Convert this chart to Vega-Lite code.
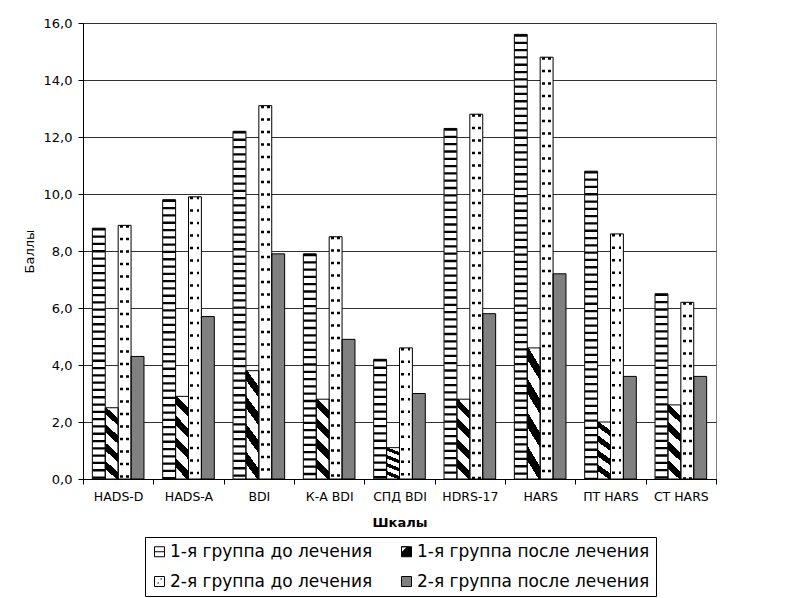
{
  "$schema": "https://vega.github.io/schema/vega-lite/v6.json",
  "width": 633,
  "height": 456,
  "autosize": {"type": "pad"},
  "padding": {"left": 23, "top": 17, "right": 5, "bottom": 2},
  "background": "white",
  "config": {
    "font": "DejaVu Sans",
    "view": {"stroke": "#808080", "strokeWidth": 1},
    "axis": {"labelColor": "black", "titleColor": "black", "domainColor": "black", "tickColor": "black", "labelFont": "DejaVu Sans", "titleFont": "DejaVu Sans"},
    "legend": {
      "orient": "none",
      "legendX": 62,
      "legendY": 514,
      "direction": "horizontal",
      "columns": 2,
      "labelFont": "DejaVu Sans",
      "labelFontSize": 17,
      "labelColor": "black",
      "labelOffset": 2,
      "symbolSize": 100,
      "symbolOpacity": 1,
      "symbolStrokeWidth": 1,
      "strokeColor": "black",
      "padding": 6,
      "columnPadding": 25,
      "rowPadding": 12,
      "labelLimit": 400
    }
  },
  "data": {
    "values": [
      {"scale": "HADS-D", "g": "1-я группа до лечения", "value": 8.8},
      {"scale": "HADS-D", "g": "1-я группа после лечения", "value": 2.5},
      {"scale": "HADS-D", "g": "2-я группа до лечения", "value": 8.9},
      {"scale": "HADS-D", "g": "2-я группа после лечения", "value": 4.3},
      {"scale": "HADS-A", "g": "1-я группа до лечения", "value": 9.8},
      {"scale": "HADS-A", "g": "1-я группа после лечения", "value": 2.9},
      {"scale": "HADS-A", "g": "2-я группа до лечения", "value": 9.9},
      {"scale": "HADS-A", "g": "2-я группа после лечения", "value": 5.7},
      {"scale": "BDI", "g": "1-я группа до лечения", "value": 12.2},
      {"scale": "BDI", "g": "1-я группа после лечения", "value": 3.8},
      {"scale": "BDI", "g": "2-я группа до лечения", "value": 13.1},
      {"scale": "BDI", "g": "2-я группа после лечения", "value": 7.9},
      {"scale": "К-А BDI", "g": "1-я группа до лечения", "value": 7.9},
      {"scale": "К-А BDI", "g": "1-я группа после лечения", "value": 2.8},
      {"scale": "К-А BDI", "g": "2-я группа до лечения", "value": 8.5},
      {"scale": "К-А BDI", "g": "2-я группа после лечения", "value": 4.9},
      {"scale": "СПД BDI", "g": "1-я группа до лечения", "value": 4.2},
      {"scale": "СПД BDI", "g": "1-я группа после лечения", "value": 1.1},
      {"scale": "СПД BDI", "g": "2-я группа до лечения", "value": 4.6},
      {"scale": "СПД BDI", "g": "2-я группа после лечения", "value": 3.0},
      {"scale": "HDRS-17", "g": "1-я группа до лечения", "value": 12.3},
      {"scale": "HDRS-17", "g": "1-я группа после лечения", "value": 2.8},
      {"scale": "HDRS-17", "g": "2-я группа до лечения", "value": 12.8},
      {"scale": "HDRS-17", "g": "2-я группа после лечения", "value": 5.8},
      {"scale": "HARS", "g": "1-я группа до лечения", "value": 15.6},
      {"scale": "HARS", "g": "1-я группа после лечения", "value": 4.6},
      {"scale": "HARS", "g": "2-я группа до лечения", "value": 14.8},
      {"scale": "HARS", "g": "2-я группа после лечения", "value": 7.2},
      {"scale": "ПТ HARS", "g": "1-я группа до лечения", "value": 10.8},
      {"scale": "ПТ HARS", "g": "1-я группа после лечения", "value": 2.0},
      {"scale": "ПТ HARS", "g": "2-я группа до лечения", "value": 8.6},
      {"scale": "ПТ HARS", "g": "2-я группа после лечения", "value": 3.6},
      {"scale": "СТ HARS", "g": "1-я группа до лечения", "value": 6.5},
      {"scale": "СТ HARS", "g": "1-я группа после лечения", "value": 2.6},
      {"scale": "СТ HARS", "g": "2-я группа до лечения", "value": 6.2},
      {"scale": "СТ HARS", "g": "2-я группа после лечения", "value": 3.6}
    ]
  },
  "encoding": {
    "x": {
      "field": "scale",
      "type": "nominal",
      "sort": ["HADS-D", "HADS-A", "BDI", "К-А BDI", "СПД BDI", "HDRS-17", "HARS", "ПТ HARS", "СТ HARS"],
      "scale": {"paddingInner": 0, "paddingOuter": 0},
      "axis": {
        "title": "Шкалы",
        "titleFontWeight": "bold",
        "titleFontSize": 13,
        "titlePadding": 14,
        "labelAngle": 0,
        "labelFontSize": 12.5,
        "labelPadding": 6,
        "tickBand": "extent",
        "tickSize": 5,
        "grid": false
      }
    },
    "xOffset": {
      "field": "g",
      "type": "nominal",
      "scale": {
        "domain": ["1-я группа до лечения", "1-я группа после лечения", "2-я группа до лечения", "2-я группа после лечения"],
        "paddingInner": 0,
        "paddingOuter": 0.725
      }
    },
    "y": {
      "field": "value",
      "type": "quantitative",
      "scale": {"domain": [0, 16], "nice": false},
      "axis": {
        "title": "Баллы",
        "titleFontWeight": "normal",
        "titleFontSize": 13,
        "titlePadding": 7,
        "values": [0, 2, 4, 6, 8, 10, 12, 14, 16],
        "labelExpr": "replace(format(datum.value, '.1f'), '.', ',')",
        "labelFontSize": 13,
        "labelPadding": 6,
        "tickSize": 5,
        "grid": true,
        "gridColor": "#303030",
        "gridWidth": 1
      }
    }
  },
  "layer": [
    {
      "mark": {"type": "bar", "strokeWidth": 0, "fill": "white"}
    },
    {
      "transform": [{"filter": "datum.g === '2-я группа после лечения'"}],
      "mark": {"type": "bar", "strokeWidth": 0, "fill": "#808080"}
    },
    {
      "transform": [{"filter": "datum.g === '1-я группа до лечения'"}],
      "mark": {"type": "rule", "stroke": "black", "strokeWidth": 12.5, "strokeDash": [2.3, 5], "strokeCap": "butt"},
      "encoding": {
        "y2": {"datum": 0}
      }
    },
    {
      "transform": [{"filter": "datum.g === '1-я группа после лечения'"}],
      "mark": {
        "type": "bar",
        "strokeWidth": 0,
        "fill": {
          "gradient": "linear",
          "x1": 0, "y1": 1, "x2": 0.1625, "y2": 0,
          "stops": [
            {"offset": 0, "color": "white"},
            {"offset": 0.1375, "color": "white"},
            {"offset": 0.1375, "color": "black"},
            {"offset": 0.25, "color": "black"},
            {"offset": 0.25, "color": "white"},
            {"offset": 0.3875, "color": "white"},
            {"offset": 0.3875, "color": "black"},
            {"offset": 0.5, "color": "black"},
            {"offset": 0.5, "color": "white"},
            {"offset": 0.6375, "color": "white"},
            {"offset": 0.6375, "color": "black"},
            {"offset": 0.75, "color": "black"},
            {"offset": 0.75, "color": "white"},
            {"offset": 0.8875, "color": "white"},
            {"offset": 0.8875, "color": "black"},
            {"offset": 0.99, "color": "black"},
            {"offset": 0.99, "color": "white"},
            {"offset": 1, "color": "white"}
          ]
        }
      }
    },
    {
      "transform": [{"filter": "datum.g === '2-я группа до лечения'"}],
      "mark": {"type": "rule", "stroke": "black", "strokeWidth": 12, "strokeDash": [2.5, 10], "strokeCap": "butt"},
      "encoding": {
        "y2": {"datum": 0}
      }
    },
    {
      "transform": [{"filter": "datum.g === '2-я группа до лечения'"}],
      "mark": {
        "type": "bar",
        "strokeWidth": 0,
        "fill": {
          "gradient": "linear",
          "x1": 0, "y1": 0, "x2": 1, "y2": 0,
          "stops": [
            {"offset": 0, "color": "white"},
            {"offset": 0.15, "color": "white"},
            {"offset": 0.15, "color": "rgba(255,255,255,0)"},
            {"offset": 0.38, "color": "rgba(255,255,255,0)"},
            {"offset": 0.38, "color": "white"},
            {"offset": 0.62, "color": "white"},
            {"offset": 0.62, "color": "rgba(255,255,255,0)"},
            {"offset": 0.85, "color": "rgba(255,255,255,0)"},
            {"offset": 0.85, "color": "white"},
            {"offset": 1, "color": "white"}
          ]
        }
      }
    },
    {
      "mark": {"type": "bar", "fill": "transparent", "stroke": "black", "strokeWidth": 1}
    },
    {
      "mark": {"type": "point", "filled": true, "opacity": 0, "strokeWidth": 1},
      "encoding": {
        "fill": {
          "field": "g",
          "type": "nominal",
          "scale": {
            "domain": ["1-я группа до лечения", "1-я группа после лечения", "2-я группа до лечения", "2-я группа после лечения"],
            "range": ["white", "black", "white", "#808080"]
          },
          "legend": {"title": null, "symbolOpacity": 1}
        },
        "stroke": {
          "field": "g",
          "type": "nominal",
          "scale": {
            "domain": ["1-я группа до лечения", "1-я группа после лечения", "2-я группа до лечения", "2-я группа после лечения"],
            "range": ["black", "black", "black", "black"]
          },
          "legend": {"title": null, "symbolOpacity": 1}
        },
        "shape": {
          "field": "g",
          "type": "nominal",
          "scale": {
            "domain": ["1-я группа до лечения", "1-я группа после лечения", "2-я группа до лечения", "2-я группа после лечения"],
            "range": [
              "M-1,-1H1V1H-1Z M-1,0H1",
              "M-1,-1H1V1H-1Z M-1,-1L-1,0.2L0.2,-1Z",
              "M-1,-1H1V1H-1Z M0.2,-0.5H0.5 M-0.4,0.3H-0.1",
              "M-1,-1H1V1H-1Z"
            ]
          },
          "legend": {"title": null, "symbolOpacity": 1}
        }
      }
    }
  ]
}
